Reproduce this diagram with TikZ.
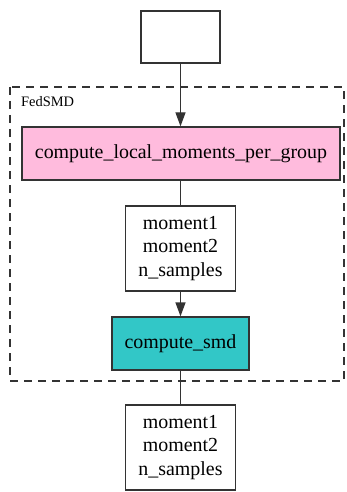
\documentclass[tikz,border=0pt]{standalone}
\usepackage{fontspec}
\setmainfont{Liberation Serif}
\usepackage{tikz}
\usetikzlibrary{positioning, arrows.meta}

\definecolor{fnpink}{RGB}{255,187,221}
\definecolor{fnteal}{RGB}{50,199,199}
\definecolor{linegray}{RGB}{51,51,51}

\begin{document}
\begin{tikzpicture}[x=1bp, y=-1bp,
	box/.style={draw=linegray, line width=1.3bp, inner sep=0pt, align=center, font=\fontsize{20}{24}\selectfont},
	flow/.style={draw=linegray, line width=1.3bp},
	head/.style={-{Triangle[length=14bp, width=10bp]}}]
	\useasboundingbox (0,0) rectangle (346,492);

	% cluster
	\draw[linegray, line width=1.2bp, dash pattern=on 8bp off 6bp] (10,87) rectangle (344,381);
	\node[anchor=base west, inner sep=0pt, font=\fontsize{14.5}{17}\selectfont] (fedsmd) at (21,107) {FedSMD};

	\node[box, minimum width=79bp, minimum height=52bp] (input) at (180.5,37) {};
	\node[box, fill=fnpink, minimum width=318bp, minimum height=53bp] (local) at (181,153.5) {compute\_local\_moments\_per\_group};
	\node[box, minimum width=110bp, minimum height=85bp] (moments) at (180.5,248.5) {moment1\\moment2\\n\_samples};
	\node[box, fill=fnteal, minimum width=137bp, minimum height=53bp] (smd) at (180.5,343.5) {compute\_smd};
	\node[box, minimum width=110bp, minimum height=85bp] (result) at (180.5,447.5) {moment1\\moment2\\n\_samples};

	\draw[flow, head] (input.south) -- (local.north -| input);
	\draw[flow] (local.south -| moments) -- (moments.north);
	\draw[flow, head] (moments.south) -- (smd.north -| moments);
	\draw[flow] (smd.south -| result) -- (result.north);
\end{tikzpicture}
\end{document}
